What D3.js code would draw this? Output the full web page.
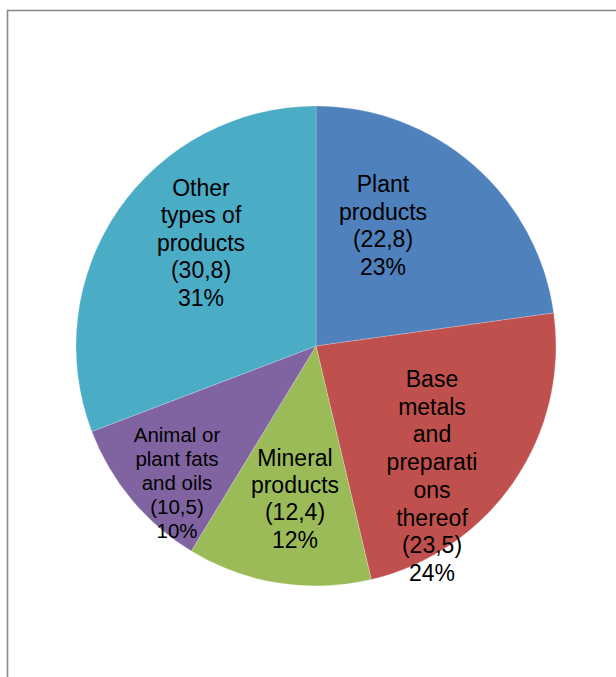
<!DOCTYPE html>
<html>
<head>
<meta charset="utf-8">
<script src="https://cdn.jsdelivr.net/npm/d3@7"></script>
<style>
  html, body { margin: 0; padding: 0; background: #fff; }
  svg { display: block; }
</style>
</head>
<body>
<script>
// ---- data ----
const categories = ["Plant products", "Base metals and preparations thereof", "Mineral products", "Animal or plant fats and oils", "Other types of products"];
const values = [22.8, 23.5, 12.4, 10.5, 30.8];
const percentLabels = ["23%", "24%", "12%", "10%", "31%"];
const valueLabels = ["(22,8)", "(23,5)", "(12,4)", "(10,5)", "(30,8)"];
const nameLines = [
  ["Plant", "products"],
  ["Base", "metals", "and", "preparati", "ons", "thereof"],
  ["Mineral", "products"],
  ["Animal or", "plant fats", "and oils"],
  ["Other", "types of", "products"]
];
const colors = ["#4F81BD", "#C0504D", "#9BBB59", "#8064A2", "#4BACC6"];

// ---- layout ----
const W = 616, H = 677;
const cx = 316, cy = 346, R = 240;
// label anchor offsets (center x, first baseline) relative to pie centre
const labelLayout = [
  { dx: 67, dy: -154, size: 23, lh: 27.5 },
  { dx: 116, dy: 41, size: 23, lh: 27.7 },
  { dx: -21, dy: 120, size: 23, lh: 27.2 },
  { dx: -139, dy: 95.5, size: 20.5, lh: 24 },
  { dx: -115, dy: -150.3, size: 23, lh: 27.5 }
];

const svg = d3.select("body").append("svg")
  .attr("width", W).attr("height", H);

// frame
svg.append("rect")
  .attr("x", 7.5).attr("y", 10.5)
  .attr("width", W + 20).attr("height", H + 20)
  .attr("fill", "none")
  .attr("stroke", "#8a8a8a")
  .attr("stroke-width", 1.6);

const pie = d3.pie().sort(null).value(d => d)(values);
const arc = d3.arc().innerRadius(0).outerRadius(R);

const g = svg.append("g").attr("transform", `translate(${cx},${cy})`);

g.selectAll("path.slice")
  .data(pie)
  .join("path")
  .attr("class", "slice")
  .attr("d", arc)
  .attr("fill", (d, i) => colors[i])
  .attr("stroke", "rgba(255,255,255,0.35)")
  .attr("stroke-width", 0.6);

pie.forEach((d, i) => {
  const L = labelLayout[i];
  const lines = nameLines[i].concat([valueLabels[i], percentLabels[i]]);
  const t = g.append("text")
    .attr("text-anchor", "middle")
    .attr("font-family", "'Liberation Sans', Arial, sans-serif")
    .attr("font-size", L.size)
    .attr("fill", "#000");
  lines.forEach((s, k) => {
    t.append("tspan")
      .attr("x", L.dx)
      .attr("y", L.dy + k * L.lh)
      .text(s);
  });
});
</script>
</body>
</html>
